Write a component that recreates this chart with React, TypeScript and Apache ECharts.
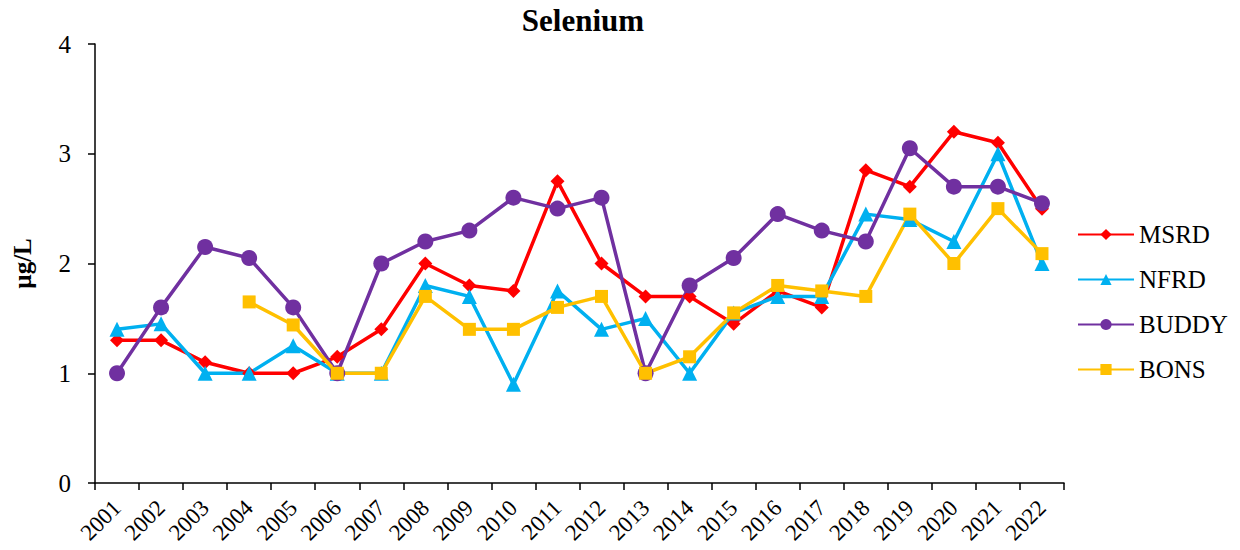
import React, { useEffect, useRef } from "react";
import * as echarts from "echarts";

const years = ["2001","2002","2003","2004","2005","2006","2007","2008","2009","2010","2011","2012","2013","2014","2015","2016","2017","2018","2019","2020","2021","2022"];
const msrd = [1.3, 1.3, 1.1, 1.0, 1.0, 1.15, 1.4, 2.0, 1.8, 1.75, 2.75, 2.0, 1.7, 1.7, 1.45, 1.75, 1.6, 2.85, 2.7, 3.2, 3.1, 2.5];
const nfrd = [1.4, 1.45, 1.0, 1.0, 1.25, 1.0, 1.0, 1.8, 1.7, 0.9, 1.75, 1.4, 1.5, 1.0, 1.55, 1.7, 1.7, 2.45, 2.4, 2.2, 3.0, 2.0];
const buddy = [1.0, 1.6, 2.15, 2.05, 1.6, 1.0, 2.0, 2.2, 2.3, 2.6, 2.5, 2.6, 1.0, 1.8, 2.05, 2.45, 2.3, 2.2, 3.05, 2.7, 2.7, 2.55];
const bons = [null, null, null, 1.65, 1.44, 1.0, 1.0, 1.7, 1.4, 1.4, 1.6, 1.7, 1.0, 1.15, 1.55, 1.8, 1.75, 1.7, 2.45, 2.0, 2.5, 2.09];

const FONT = "'Liberation Serif', 'Times New Roman', serif";

export default function App() {
  const ref = useRef<HTMLDivElement>(null);
  useEffect(() => {
    const chart = echarts.init(ref.current!, null, { renderer: "svg" });
    const mk = (name: string, data: any[], color: string, symbol: string, size: number) => ({
      name,
      type: "line",
      data,
      symbol,
      symbolSize: size,
      showAllSymbol: true,
      lineStyle: { color, width: 3.5 },
      itemStyle: { color },
      connectNulls: false,
    });
    chart.setOption({
      animation: false,
      backgroundColor: "#fff",
      title: {
        text: "Selenium",
        left: 578,
        top: 0,
        textAlign: "center",
        textStyle: { fontFamily: FONT, fontSize: 31, fontWeight: "bold", color: "#000" },
      },
      legend: {
        orient: "vertical",
        left: 1072,
        top: 217,
        itemWidth: 56,
        itemHeight: 14,
        itemGap: 20,
        textStyle: { fontFamily: FONT, fontSize: 25, color: "#000", lineHeight: 24 },
        data: ["MSRD", "NFRD", "BUDDY", "BONS"],
      },
      grid: { left: 95, right: 176, top: 44, bottom: 67, containLabel: false, outerBoundsMode: "none" },
      xAxis: {
        type: "category",
        data: years,
        boundaryGap: true,
        axisLine: { lineStyle: { color: "#000", width: 1.5 } },
        axisTick: { show: true, length: 7, alignWithLabel: false, lineStyle: { color: "#000", width: 1.5 } },
        axisLabel: { rotate: 45, fontFamily: FONT, fontSize: 23, color: "#000", margin: 21, interval: 0 },
        splitLine: { show: false },
      },
      yAxis: {
        type: "value",
        min: 0,
        max: 4,
        interval: 1,
        name: "µg/L",
        nameLocation: "middle",
        nameGap: 60,
        nameRotate: 90,
        nameTextStyle: { fontFamily: FONT, fontSize: 25, fontWeight: "bold", color: "#000" },
        axisLine: { show: true, lineStyle: { color: "#000", width: 1.5 } },
        axisTick: { show: true, length: 7, lineStyle: { color: "#000", width: 1.5 } },
        axisLabel: { fontFamily: FONT, fontSize: 25, color: "#000", margin: 24 },
        splitLine: { show: false },
      },
      series: [
        mk("MSRD", msrd, "#FF0000", "diamond", 14),
        mk("NFRD", nfrd, "#00B0F0", "triangle", 15),
        mk("BUDDY", buddy, "#7030A0", "circle", 16),
        mk("BONS", bons, "#FFC000", "rect", 13),
      ],
    });
    return () => chart.dispose();
  }, []);
  return <div ref={ref} style={{ width: 1240, height: 550, margin: -8 }} />;
}
